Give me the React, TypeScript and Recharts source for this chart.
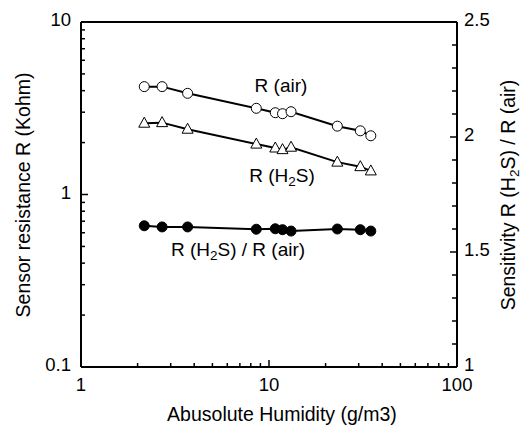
import React from 'react';
import { ComposedChart, Line, XAxis, YAxis, ReferenceLine } from 'recharts';

const humidity = [2.17, 2.7, 3.69, 8.56, 10.8, 11.8, 13.1, 23.1, 30.6, 34.8];
const rAir = [4.22, 4.22, 3.86, 3.16, 2.98, 2.94, 3.02, 2.49, 2.34, 2.19];
const rH2S = [2.59, 2.61, 2.39, 1.96, 1.86, 1.82, 1.88, 1.54, 1.45, 1.37];
const sensitivity = [1.614, 1.609, 1.609, 1.599, 1.601, 1.597, 1.591, 1.6, 1.597, 1.591];

const xTicks = [1, 2, 3, 4, 5, 6, 7, 8, 9, 10, 20, 30, 40, 50, 60, 70, 80, 90, 100];
const xLabels = [1, 10, 100];
const leftTicks = [0.1, 0.2, 0.3, 0.4, 0.5, 0.6, 0.7, 0.8, 0.9, 1, 2, 3, 4, 5, 6, 7, 8, 9, 10];
const leftLabels = [0.1, 1, 10];
const rightTicks = [1, 1.1, 1.2, 1.3, 1.4, 1.5, 1.6, 1.7, 1.8, 1.9, 2, 2.1, 2.2, 2.3, 2.4, 2.5];
const rightLabels = [1, 1.5, 2, 2.5];

const data = humidity.map((h, i) => ({
  h,
  rAir: rAir[i],
  rH2S: rH2S[i],
  sens: sensitivity[i],
}));

const FONT = '"Liberation Sans", Arial, Helvetica, sans-serif';
const FS = 18.5;
const FS_TITLE = 19.5;
const FS_ANN = 19;

const isLabel = (arr: number[], v: number) => arr.some((a) => Math.abs(a - v) < 1e-9);

const XTick = (props: any) => {
  const { x, y, payload } = props;
  const v = payload.value;
  const major = isLabel(xLabels, v);
  return (
    <g>
      <line x1={x} x2={x} y1={y} y2={y - (major ? 7 : 4)} stroke="#000" strokeWidth={1.5} />
      {major && (
        <text x={x} y={y + 24} textAnchor="middle" fontFamily={FONT} fontSize={FS} fill="#000">
          {String(v)}
        </text>
      )}
    </g>
  );
};

const LeftTick = (props: any) => {
  const { x, y, payload } = props;
  const v = payload.value;
  const major = isLabel(leftLabels, v);
  return (
    <g>
      <line x1={x} x2={x + (major ? 7 : 4)} y1={y} y2={y} stroke="#000" strokeWidth={1.5} />
      {major && (
        <text x={x - 10} y={y + 4} textAnchor="end" fontFamily={FONT} fontSize={FS} fill="#000">
          {String(v)}
        </text>
      )}
    </g>
  );
};

const RightTick = (props: any) => {
  const { x, y, payload } = props;
  const v = payload.value;
  const major = isLabel(rightLabels, v);
  return (
    <g>
      <line x1={x} x2={x - (major ? 7 : 5)} y1={y} y2={y} stroke="#000" strokeWidth={1.5} />
      {major && (
        <text x={x + 7} y={y + 4} textAnchor="start" fontFamily={FONT} fontSize={FS} fill="#000">
          {String(v)}
        </text>
      )}
    </g>
  );
};

const Triangle = (props: any) => {
  const { cx, cy } = props;
  if (cx == null || cy == null) return null;
  const pts = `${cx},${cy - 6} ${cx - 5.5},${cy + 4} ${cx + 5.5},${cy + 4}`;
  return <polygon points={pts} fill="#fff" stroke="#000" strokeWidth={1} />;
};

const Sub = ({ children }: any) => (
  <tspan fontSize={13.5} dy={4}>{children}</tspan>
);

export default function App() {
  return (
    <div style={{ position: 'absolute', left: 0, top: 0, background: '#fff' }}>
      <ComposedChart
        width={522}
        height={426}
        data={data}
        margin={{ top: 22, right: 0, bottom: 0, left: 0 }}
      >
        <XAxis
          dataKey="h"
          type="number"
          scale="log"
          domain={[1, 100]}
          allowDataOverflow
          ticks={xTicks}
          interval={0}
          tickSize={0}
          tickMargin={0}
          tick={<XTick />}
          axisLine={{ stroke: '#000', strokeWidth: 2 }}
          height={59}
        />
        <YAxis
          yAxisId="left"
          type="number"
          scale="log"
          domain={[0.1, 10]}
          allowDataOverflow
          ticks={leftTicks}
          interval={0}
          tickSize={0}
          tickMargin={0}
          tick={<LeftTick />}
          axisLine={{ stroke: '#000', strokeWidth: 2 }}
          width={81}
        />
        <YAxis
          yAxisId="right"
          orientation="right"
          type="number"
          domain={[1, 2.5]}
          allowDataOverflow
          ticks={rightTicks}
          interval={0}
          tickSize={0}
          tickMargin={0}
          tick={<RightTick />}
          axisLine={{ stroke: '#000', strokeWidth: 2 }}
          width={65}
        />
        <ReferenceLine yAxisId="left" y={10} stroke="#000" strokeWidth={2} />
        <Line
          yAxisId="left"
          dataKey="rAir"
          stroke="#000"
          strokeWidth={2}
          dot={{ r: 5, fill: '#fff', stroke: '#000', strokeWidth: 1 }}
          isAnimationActive={false}
        />
        <Line
          yAxisId="left"
          dataKey="rH2S"
          stroke="#000"
          strokeWidth={2}
          dot={<Triangle />}
          isAnimationActive={false}
        />
        <Line
          yAxisId="right"
          dataKey="sens"
          stroke="#000"
          strokeWidth={2}
          dot={{ r: 5, fill: '#000', stroke: '#000', strokeWidth: 1 }}
          isAnimationActive={false}
        />
        <g fontFamily={FONT} fill="#000">
          <text x={281} y={92} textAnchor="middle" fontSize={FS_ANN}>R (air)</text>
          <text x={282} y={182} textAnchor="middle" fontSize={FS_ANN}>
            R (H<Sub>2</Sub><tspan dy={-4}>S)</tspan>
          </text>
          <text x={238} y={256} textAnchor="middle" fontSize={FS_ANN}>
            R (H<Sub>2</Sub><tspan dy={-4}>S) / R (air)</tspan>
          </text>
          <text x={282} y={421} textAnchor="middle" fontSize={FS_TITLE}>Abusolute Humidity (g/m3)</text>
          <text x={30} y={195} textAnchor="middle" fontSize={FS_TITLE} transform="rotate(-90 30 195)">
            Sensor resistance R (Kohm)
          </text>
          <text x={515} y={195} textAnchor="middle" fontSize={FS_TITLE} transform="rotate(-90 515 195)">
            Sensitivity R (H<Sub>2</Sub><tspan dy={-4}>S) / R (air)</tspan>
          </text>
        </g>
      </ComposedChart>
    </div>
  );
}
